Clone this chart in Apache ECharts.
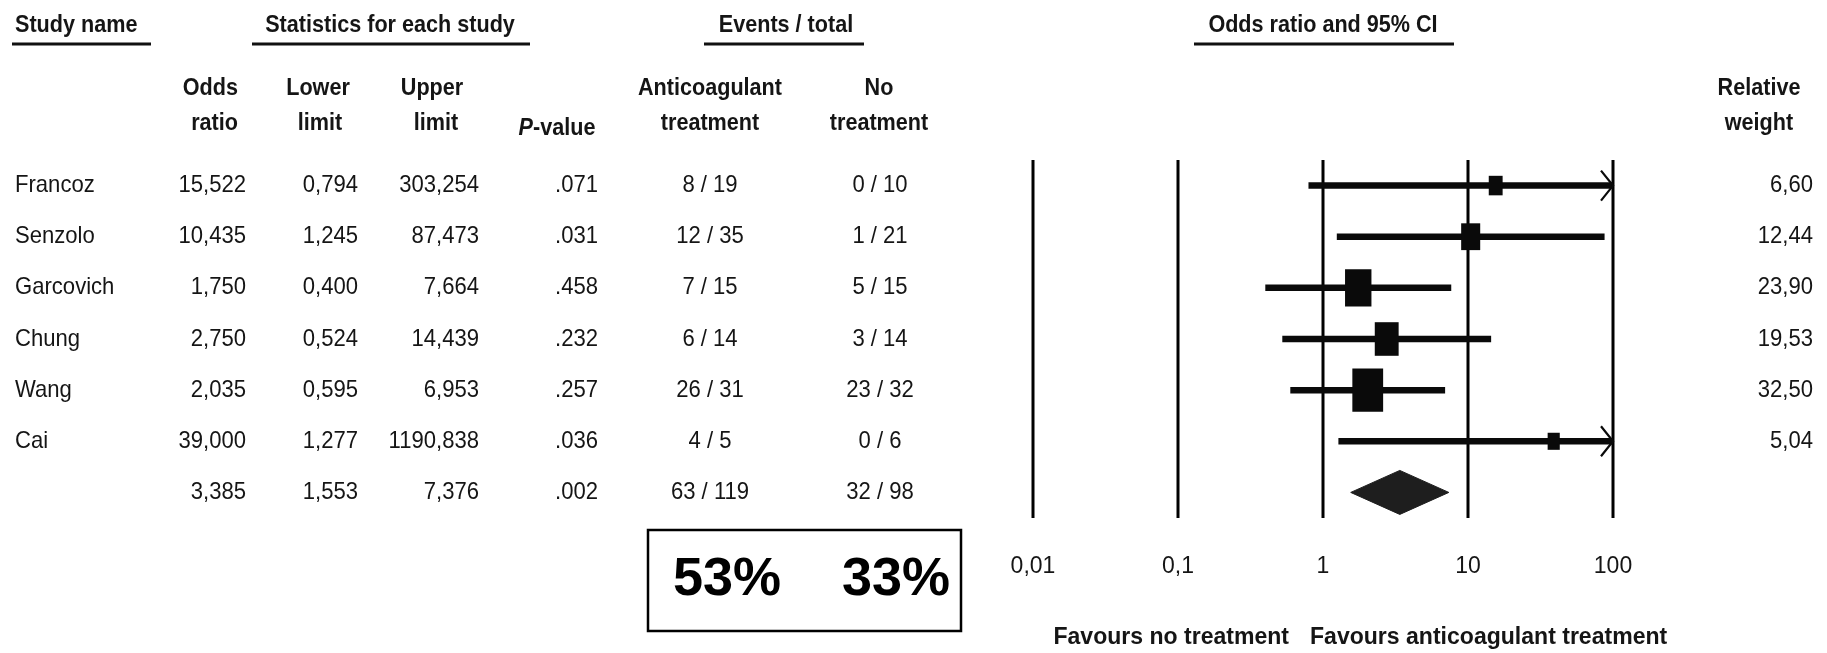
<!DOCTYPE html>
<html>
<head>
<meta charset="utf-8">
<title>Anticoagulant treatment – forest plot</title>
<script src="https://cdn.jsdelivr.net/npm/echarts@6/dist/echarts.min.js"></script>
<style>
  html, body { margin: 0; padding: 0; background: #fff; }
  #chart { width: 1827px; height: 653px; }
</style>
</head>
<body>
<div id="chart"></div>
<script>
// ---- study data -------------------------------------------------------------
const studies       = ['Francoz', 'Senzolo', 'Garcovich', 'Chung', 'Wang', 'Cai'];
const rowNames      = studies.concat(['Pooled']);          // last row = pooled estimate
const oddsRatio     = [15.522, 10.435, 1.750, 2.750, 2.035, 39.000, 3.385];
const lowerLimit    = [0.794, 1.245, 0.400, 0.524, 0.595, 1.277, 1.553];
const upperLimit    = [303.254, 87.473, 7.664, 14.439, 6.953, 1190.838, 7.376];
const pValue        = [0.071, 0.031, 0.458, 0.232, 0.257, 0.036, 0.002];
const eventsTreated = [8, 12, 7, 6, 26, 4, 63];
const totalTreated  = [19, 35, 15, 14, 31, 5, 119];
const eventsControl = [0, 1, 5, 3, 23, 0, 32];
const totalControl  = [10, 21, 15, 14, 32, 6, 98];
const relWeight     = [6.60, 12.44, 23.90, 19.53, 32.50, 5.04];
const tickValues    = [0.01, 0.1, 1, 10, 100];
const tickLabels    = ['0,01', '0,1', '1', '10', '100'];

// ---- formatting helpers -----------------------------------------------------
const comma = (v, d) => v.toFixed(d).replace('.', ',');
const pFmt  = v => v.toFixed(3).replace(/^0/, '');
const FONT  = '"Liberation Sans", Arial, Helvetica, sans-serif';
const INK   = '#151515';
const POOLED = rowNames.length - 1;

// ---- text helpers for the header / footer -----------------------------------
function txt(text, x, y, o) {
  o = o || {};
  return {
    type: 'text', x: x, y: y, scaleX: o.sx == null ? 0.9 : o.sx, silent: true,
    style: {
      text: text,
      font: (o.italic ? 'italic ' : '') + (o.bold === false ? '' : 'bold ') + (o.size || 24) + 'px ' + FONT,
      fill: o.fill || INK,
      textAlign: o.align || 'center', align: o.align || 'center',
      textVerticalAlign: 'middle', verticalAlign: 'middle'
    }
  };
}
function rule(x1, x2, y) {
  return { type: 'line', silent: true, shape: { x1: x1, y1: y, x2: x2, y2: y },
           style: { stroke: '#111', lineWidth: 3 } };
}

// ---- table columns (left part and weight column) ----------------------------
const columns = [
  { x: 15,   align: 'left',   get: i => i < POOLED ? studies[i] : '' },
  { x: 246,  align: 'right',  get: i => comma(oddsRatio[i], 3) },
  { x: 358,  align: 'right',  get: i => comma(lowerLimit[i], 3) },
  { x: 479,  align: 'right',  get: i => comma(upperLimit[i], 3) },
  { x: 598,  align: 'right',  get: i => pFmt(pValue[i]) },
  { x: 710,  align: 'center', get: i => eventsTreated[i] + ' / ' + totalTreated[i] },
  { x: 880,  align: 'center', get: i => eventsControl[i] + ' / ' + totalControl[i] },
  { x: 1813, align: 'right',  get: i => i < POOLED ? comma(relWeight[i], 2) : '' }
];

function renderTable(params, api) {
  const i = params.dataIndex;
  const y = api.coord([1, i])[1];
  return {
    type: 'group',
    children: columns.map(c => ({
      type: 'text', x: c.x, y: y, scaleX: 0.92, silent: true,
      style: {
        text: c.get(i), font: '24px ' + FONT, fill: INK,
        textAlign: c.align, align: c.align,
        textVerticalAlign: 'middle', verticalAlign: 'middle'
      }
    }))
  };
}

// ---- forest marks: CI bars, weighted boxes, arrows, pooled diamond ----------
function renderForest(params, api) {
  const i = params.dataIndex;
  const cs = params.coordSys;
  const xMin = cs.x, xMax = cs.x + cs.width;
  const y = api.coord([1, i])[1];
  const xo = api.coord([oddsRatio[i], i])[0];
  const xlRaw = api.coord([lowerLimit[i], i])[0];
  const xhRaw = api.coord([upperLimit[i], i])[0];
  const xl = Math.max(xMin, xlRaw), xh = Math.min(xMax, xhRaw);

  if (i === POOLED) {
    const h = 22;
    return {
      type: 'polygon',
      shape: { points: [[xl, y], [xo, y - h], [xh, y], [xo, y + h]] },
      style: { fill: '#1e1e1e', stroke: '#1e1e1e', lineWidth: 1 }
    };
  }
  const children = [{
    type: 'line', shape: { x1: xl, y1: y, x2: xh, y2: y },
    style: { stroke: '#0a0a0a', lineWidth: 6.5 }
  }];
  const s = Math.sqrt(relWeight[i]);
  const w = 5.4 * s, h = 7.6 * s;
  children.push({
    type: 'rect', shape: { x: xo - w / 2, y: y - h / 2, width: w, height: h },
    style: { fill: '#0a0a0a' }
  });
  if (xhRaw > xMax) {
    children.push({
      type: 'polyline',
      shape: { points: [[xMax - 12, y - 15], [xMax, y], [xMax - 12, y + 15]] },
      style: { stroke: '#0a0a0a', lineWidth: 2.2, fill: null }
    });
  }
  if (xlRaw < xMin) {
    children.push({
      type: 'polyline',
      shape: { points: [[xMin + 12, y - 15], [xMin, y], [xMin + 12, y + 15]] },
      style: { stroke: '#0a0a0a', lineWidth: 2.2, fill: null }
    });
  }
  return { type: 'group', children: children };
}

// ---- vertical reference lines at each decade ---------------------------------
function renderRefLine(params, api) {
  const cs = params.coordSys;
  const x = api.coord([tickValues[params.dataIndex], 0])[0];
  return {
    type: 'line', silent: true,
    shape: { x1: x, y1: cs.y, x2: x, y2: cs.y + cs.height },
    style: { stroke: '#000', lineWidth: 3 }
  };
}

const pct = (e, t) => Math.round(e / t * 100) + '%';

const chart = echarts.init(document.getElementById('chart'), null, { renderer: 'canvas' });
chart.setOption({
  animation: false,
  backgroundColor: '#ffffff',
  grid: { left: 1033, right: 214, top: 160, bottom: 135, containLabel: false },
  xAxis: {
    type: 'log', logBase: 10, min: tickValues[0], max: tickValues[tickValues.length - 1],
    splitNumber: 4,
    axisLine: { show: false }, axisTick: { show: false }, splitLine: { show: false },
    axisLabel: {
      margin: 49, verticalAlign: 'middle',
      fontFamily: FONT, fontSize: 23, color: INK,
      formatter: v => {
        const k = tickValues.findIndex(t => Math.abs(Math.log10(t) - Math.log10(v)) < 1e-6);
        return k >= 0 ? tickLabels[k] : '';
      }
    }
  },
  yAxis: { type: 'category', data: rowNames, inverse: true, show: false },
  series: [
    {
      type: 'custom', name: 'reference', renderItem: renderRefLine, silent: true, z: 1,
      data: tickValues.map(v => [v, 0]), encode: { x: 0, y: 1 }
    },
    {
      type: 'custom', name: 'forest', renderItem: renderForest, clip: false, z: 2,
      data: oddsRatio.map((v, i) => [v, i]), encode: { x: 0, y: 1 }
    },
    {
      type: 'custom', name: 'table', renderItem: renderTable, clip: false, z: 3,
      data: oddsRatio.map((v, i) => [v, i]), encode: { x: 0, y: 1 }
    }
  ],
  graphic: { elements: [
    // section headings
    txt('Study name', 15, 25, { align: 'left' }), rule(12, 151, 44),
    txt('Statistics for each study', 390, 25), rule(252, 530, 44),
    txt('Events / total', 786, 25), rule(704, 864, 44),
    txt('Odds ratio and 95% CI', 1323, 25), rule(1194, 1454, 44),
    // column headings
    txt('Odds', 238, 88, { align: 'right' }), txt('ratio', 238, 123, { align: 'right' }),
    txt('Lower', 318, 88), txt('limit', 320, 123),
    txt('Upper', 432, 88), txt('limit', 436, 123),
    txt('P', 533, 128, { align: 'right', italic: true }), txt('-value', 533, 128, { align: 'left' }),
    txt('Anticoagulant', 710, 88), txt('treatment', 710, 123),
    txt('No', 879, 88), txt('treatment', 879, 123),
    txt('Relative', 1759, 88), txt('weight', 1759, 123),
    // favours labels under the axis
    txt('Favours no treatment', 1289, 637, { align: 'right', sx: 0.96 }),
    txt('Favours anticoagulant treatment', 1310, 637, { align: 'left', sx: 0.96 }),
    // pooled event rates
    { type: 'rect', silent: true, shape: { x: 648, y: 530, width: 313, height: 101 },
      style: { fill: 'transparent', stroke: '#000', lineWidth: 2.5 } },
    txt(pct(eventsTreated[POOLED], totalTreated[POOLED]), 727, 580, { size: 54, sx: 1, fill: '#000' }),
    txt(pct(eventsControl[POOLED], totalControl[POOLED]), 896, 580, { size: 54, sx: 1, fill: '#000' })
  ] }
});
</script>
</body>
</html>
